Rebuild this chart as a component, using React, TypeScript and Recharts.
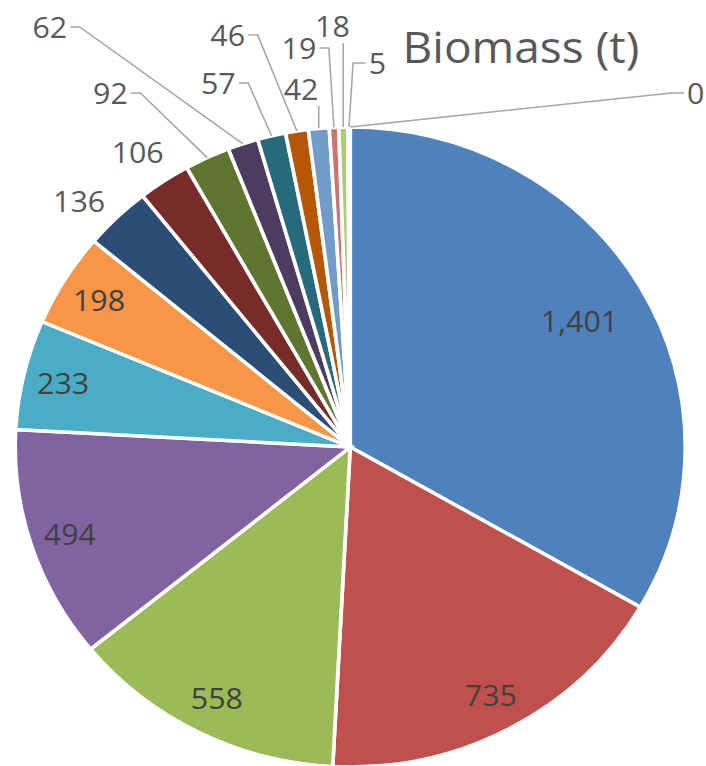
import { PieChart, Pie, Cell } from 'recharts';

// Biomass (t) per group, in clockwise order from 12 o'clock
const GROUPS = ['G1', 'G2', 'G3', 'G4', 'G5', 'G6', 'G7', 'G8', 'G9', 'G10', 'G11', 'G12', 'G13', 'G14', 'G15', 'G16', 'G17'];
const BIOMASS = [1401, 735, 558, 494, 233, 198, 136, 106, 92, 62, 57, 46, 42, 19, 18, 5, 0];

const COLORS = [
  '#4F81BD', '#C0504D', '#9BBB59', '#8064A2', '#4BACC6', '#F79646',
  '#2C4D75', '#772C2A', '#5F7530', '#4D3B62', '#276A7C', '#B65708',
  '#729ACA', '#CD7371', '#AFC97A', '#9983B5', '#6FBDD1',
];

const chartData = GROUPS.map((name, i) => ({ name, value: BIOMASS[i] }));

const INSIDE_COUNT = 6;
const CX = 345;
const CY = 442;
const RADIUS = 320;
// the source picture is a little wider than tall
const STRETCH_X = 1.047;
const FONT = '"Open Sans", "Noto Sans", sans-serif';

// where Excel put the outside labels (offset from pie centre, before stretch) and how the leader runs
const OUTSIDE_SPOTS: { dx: number; dy: number; line: 'none' | 'left' | 'right' | 'below' }[] = [
  { dx: -259, dy: -246, line: 'none' },  // 136
  { dx: -203, dy: -295, line: 'none' },  // 106
  { dx: -229, dy: -354, line: 'left' },  // 92
  { dx: -287, dy: -420, line: 'left' },  // 62
  { dx: -126, dy: -364, line: 'left' },  // 57
  { dx: -117, dy: -412, line: 'left' },  // 46
  { dx: -47, dy: -358, line: 'below' },  // 42
  { dx: -49, dy: -399, line: 'left' },   // 19
  { dx: -17, dy: -421, line: 'below' },  // 18
  { dx: 26, dy: -384, line: 'right' },   // 5
  { dx: 330, dy: -354, line: 'right' },  // 0
];

const RAD = Math.PI / 180;

const renderLabel = (p: any) => {
  const { cx, cy, midAngle, outerRadius, index, value } = p;
  const text = Number(value).toLocaleString('en-US');
  if (index < INSIDE_COUNT) {
    const r = outerRadius * (index === 0 ? 0.79 : 0.88);
    const x = cx + r * Math.cos(-midAngle * RAD);
    const y = cy + r * Math.sin(-midAngle * RAD);
    return (
      <text key={`l${index}`} x={x} y={y} textAnchor="middle" dominantBaseline="central"
        fontFamily={FONT} fontSize={29} fill="#404040">
        {text}
      </text>
    );
  }
  const spot = OUTSIDE_SPOTS[index - INSIDE_COUNT];
  if (!spot) return null;
  const lx = cx + spot.dx;
  const ly = cy + spot.dy;
  const ex = cx + outerRadius * Math.cos(-midAngle * RAD);
  const ey = cy + outerRadius * Math.sin(-midAngle * RAD);
  const half = text.length * 8.3;
  let pts = '';
  if (spot.line === 'left') {
    const sx = lx + half + 3;
    pts = `${sx},${ly} ${sx + 9},${ly} ${ex},${ey}`;
  } else if (spot.line === 'right') {
    const sx = lx - half - 3;
    pts = `${sx},${ly} ${sx - 12},${ly} ${ex},${ey}`;
  } else if (spot.line === 'below') {
    pts = `${ex},${ly + 17} ${ex},${ey}`;
  }
  return (
    <g key={`l${index}`}>
      {pts && <polyline points={pts} fill="none" stroke="#A6A6A6" strokeWidth={1.5} />}
      <text x={lx} y={ly} textAnchor="middle" dominantBaseline="central"
        fontFamily={FONT} fontSize={29} fill="#595959">
        {text}
      </text>
    </g>
  );
};

export default function App() {
  return (
    <div style={{ position: 'absolute', left: 0, top: 0, width: 706, height: 766, background: '#fff', overflow: 'hidden' }}>
      <div style={{ transform: `scaleX(${STRETCH_X})`, transformOrigin: `${CX}px 0px` }}>
        <PieChart width={706} height={766}>
          <text x={513} y={46} textAnchor="middle" dominantBaseline="central"
            fontFamily={FONT} fontSize={44} fill="#595959">
            Biomass (t)
          </text>
          <Pie
            data={chartData}
            dataKey="value"
            nameKey="name"
            cx={CX}
            cy={CY}
            outerRadius={RADIUS}
            startAngle={90}
            endAngle={-270}
            stroke="#fff"
            strokeWidth={3.5}
            label={renderLabel}
            labelLine={false}
            isAnimationActive={false}
          >
            {chartData.map((d, i) => (
              <Cell key={d.name} fill={COLORS[i % COLORS.length]} />
            ))}
          </Pie>
        </PieChart>
      </div>
    </div>
  );
}
